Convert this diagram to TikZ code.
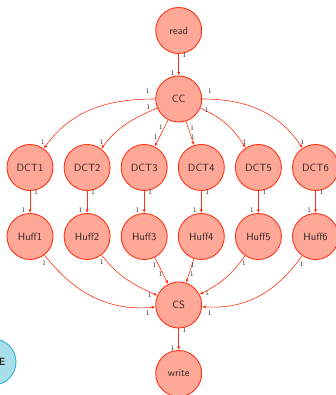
\documentclass[tikz,border=0pt]{standalone}
\usetikzlibrary{arrows.meta}
\definecolor{taskline}{RGB}{255,52,22}
\definecolor{taskfill}{RGB}{255,168,152}
\definecolor{tasktext}{RGB}{45,35,35}
\definecolor{sideline}{RGB}{45,178,215}
\definecolor{sidefill}{RGB}{168,222,234}
\tikzset{
  task/.style={circle, draw=taskline, fill=taskfill, line width=0.9pt,
    minimum size=46pt, inner sep=0pt, text=tasktext,
    font=\sffamily\fontsize{10.5}{12}\selectfont},
  side/.style={circle, draw=sideline, fill=sidefill, line width=0.9pt,
    minimum size=46pt, inner sep=0pt},
  flow/.style={draw=taskline, line width=0.6pt, -{Latex[length=3.6pt,width=3pt]}},
  lbl/.style={font=\fontsize{7}{8}\selectfont, text=tasktext, inner sep=0pt}
}
\begin{document}
\begin{tikzpicture}[x=1pt, y=-1pt]
\useasboundingbox (0,0) rectangle (336,395);

% pipeline stages
\node[task] (read)  at (178.7,30.5) {read};
\node[task] (CC)    at (178.7,99)   {CC};
\foreach \i/\x in {1/30,2/87.1,3/144.2,4/201.3,5/258.4,6/315.5}{
  \node[task] (DCT\i)  at (\x,167.5) {DCT\i};
  \node[task] (Huff\i) at (\x,236.5) {Huff\i};
}
\node[task] (CS)    at (178.7,305)  {CS};
\node[task] (write) at (178.7,373.5) {write};

% side node at the left border
\node[side] (side) at (-7,362) {};
\node[anchor=east, inner sep=0pt, text=tasktext, font=\sffamily\bfseries\fontsize{10.5}{12}\selectfont] (sidetext) at (5.5,362) {E};

% read -> CC
\draw[flow] (read) -- (CC)
  node[lbl, at start, xshift=5.6pt, yshift=-1pt] {1}
  node[lbl, at end, xshift=-6.4pt, yshift=2pt] {1};

% CC fans out to the DCT stages
\draw[flow] (CC) to[out=180, in=54]
  node[lbl, at start, xshift=-7.7pt, yshift=8pt] {1}
  node[lbl, at end, xshift=-1pt, yshift=6.5pt] {1} (DCT1);
\draw[flow] (CC) to[out=203, in=53]
  node[lbl, at start, xshift=-8.7pt, yshift=1pt] {1}
  node[lbl, at end, xshift=0.5pt, yshift=6.5pt] {1} (DCT2);
\draw[flow] (CC) -- (DCT3)
  node[lbl, at start, xshift=-7.3pt, yshift=-7.5pt] {1}
  node[lbl, at end, xshift=0.5pt, yshift=9pt] {1};
\draw[flow] (CC) -- (DCT4)
  node[lbl, at start, xshift=6.1pt, yshift=-7.1pt] {1}
  node[lbl, at end, xshift=-1pt, yshift=7.6pt] {1};
\draw[flow] (CC) to[out=-23, in=123]
  node[lbl, at start, xshift=6.4pt, yshift=-2pt] {1}
  node[lbl, at end, xshift=-1pt, yshift=6pt] {1} (DCT5);
\draw[flow] (CC) to[out=0, in=124]
  node[lbl, at start, xshift=7.6pt, yshift=8pt] {1}
  node[lbl, at end, xshift=0pt, yshift=6pt] {1} (DCT6);

% DCT -> Huff
\foreach \i in {1,...,6}{
  \draw[flow] (DCT\i) -- (Huff\i)
    node[lbl, at start, xshift=6pt, yshift=-1.5pt] {1}
    node[lbl, at end, xshift=-6.5pt, yshift=2.5pt] {1};
}

% Huff stages gather into CS
\draw[flow] (Huff1) to[out=-52, in=185]
  node[lbl, at start, xshift=-0.2pt, yshift=-8.5pt] {1}
  node[lbl, at end, xshift=-7.7pt, yshift=-6pt] {1} (CS);
\draw[flow] (Huff2) to[out=-52, in=156]
  node[lbl, at start, xshift=0pt, yshift=-7pt] {1}
  node[lbl, at end, xshift=-7.7pt, yshift=0pt] {1} (CS);
\draw[flow] (Huff3) -- (CS)
  node[lbl, at start, xshift=-0.3pt, yshift=-8pt] {1}
  node[lbl, at end, xshift=-7.6pt, yshift=9.5pt] {1};
\draw[flow] (Huff4) -- (CS)
  node[lbl, at start, xshift=-1.4pt, yshift=-6.7pt] {1}
  node[lbl, at end, xshift=5.8pt, yshift=8.2pt] {1};
\draw[flow] (Huff5) to[out=235, in=27]
  node[lbl, at start, xshift=-1.2pt, yshift=-7.4pt] {1}
  node[lbl, at end, xshift=7.5pt, yshift=1.3pt] {1} (CS);
\draw[flow] (Huff6) to[out=235, in=-4]
  node[lbl, at start, xshift=-0.6pt, yshift=-8pt] {1}
  node[lbl, at end, xshift=7.4pt, yshift=-6.1pt] {1} (CS);

% CS -> write
\draw[flow] (CS) -- (write)
  node[lbl, at start, xshift=5.6pt, yshift=-1.3pt] {1}
  node[lbl, at end, xshift=-6.4pt, yshift=2.2pt] {1};
\end{tikzpicture}
\end{document}
